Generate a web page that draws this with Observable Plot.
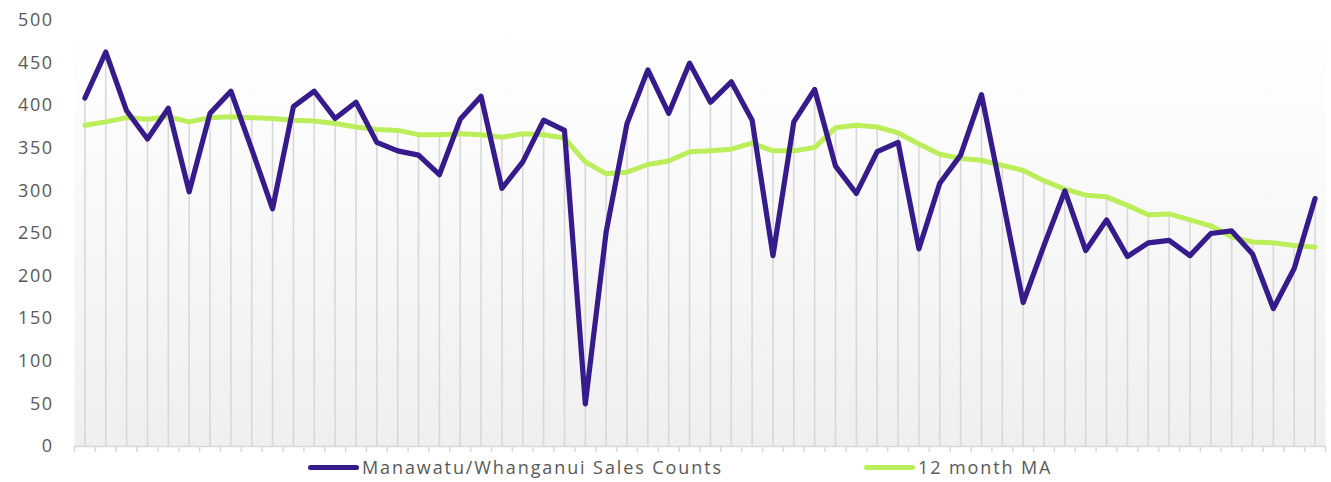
<!DOCTYPE html>
<html>
<head>
<meta charset="utf-8">
<script src="https://cdn.jsdelivr.net/npm/d3@7"></script>
<script src="https://cdn.jsdelivr.net/npm/@observablehq/plot@0.6"></script>
<style>
  html, body { margin: 0; padding: 0; background: #ffffff; }
  #wrap { position: relative; width: 1331px; height: 482px; font-family: "Open Sans", sans-serif; }
  #legend { position: relative; height: 22px; color: #595959; font-size: 18px; letter-spacing: 1.9px; }
  .item { position: absolute; top: 0; height: 22px; display: flex; align-items: center; white-space: nowrap; }
  .sw { width: 51px; height: 5px; border-radius: 3px; margin-right: 3px; }
</style>
</head>
<body>
<div id="wrap"></div>
<script>
// Period index (monthly categories, no labels shown on the axis)
const periods = Array.from({length: 60}, (_, i) => i + 1);

// Manawatu/Whanganui monthly sales counts
const salesCounts = [409,463,394,361,397,299,391,417,349,279,399,417,385,404,357,347,342,319,384,411,
                     303,334,383,371,50,252,379,442,391,450,404,428,383,224,381,419,329,297,346,357,
                     232,309,342,413,292,169,236,300,230,266,223,239,242,224,250,253,226,162,209,291];

// 12 month moving average
const movingAvg = [377,381,386,384,387,381,386,387,386,385,383,382,379,375,372,371,366,366,367,366,
                   363,367,366,362,334,320,322,331,335,346,347,349,356,347,347,351,374,377,375,368,
                   355,343,338,336,330,324,312,302,295,293,283,272,273,266,259,246,240,239,236,234];

const yTicks = [0,50,100,150,200,250,300,350,400,450,500];
const seriesNames = ["Manawatu/Whanganui Sales Counts", "12 month MA"];
const seriesColors = ["#351b8b", "#bbee5a"];

const data = periods.map((p, i) => ({p, sales: salesCounts[i], ma: movingAvg[i]}));
const bandEdges = [0, ...periods].map(p => p + 0.5);

const chart = Plot.plot({
  width: 1331,
  height: 456,
  marginLeft: 74,
  marginRight: 6,
  marginTop: 20,
  marginBottom: 10,
  style: {fontFamily: "'Open Sans', sans-serif", fontSize: "18px", color: "#595959", background: "transparent", overflow: "visible"},
  x: {type: "linear", domain: [0.5, 60.5], label: null},
  y: {domain: [0, 500], label: null},
  marks: [
    Plot.frame({fill: "url(#plotBg)", stroke: "none"}),
    Plot.ruleX(data, {x: "p", y1: 0, y2: d => Math.max(d.sales, d.ma), stroke: "#d8d8d8", strokeWidth: 1.6}),
    Plot.ruleY([0], {stroke: "#d9d9d9", strokeWidth: 1.5}),
    Plot.axisX({ticks: bandEdges, tickFormat: () => "", tickSize: 6, stroke: "#d9d9d9", strokeWidth: 1.5, label: null}),
    Plot.axisY({ticks: yTicks, tickSize: 0, tickPadding: 21, fill: "#595959", fontSize: 18, label: null}),
    Plot.line(data, {x: "p", y: "ma", stroke: seriesColors[1], strokeWidth: 5, strokeLinejoin: "round", strokeLinecap: "round"}),
    Plot.line(data, {x: "p", y: "sales", stroke: seriesColors[0], strokeWidth: 5.2, strokeLinejoin: "round", strokeLinecap: "round"})
  ]
});

// gradient definition for plot-area background
const ns = "http://www.w3.org/2000/svg";
const defs = document.createElementNS(ns, "defs");
const grad = document.createElementNS(ns, "linearGradient");
grad.setAttribute("id", "plotBg");
grad.setAttribute("x1", "0"); grad.setAttribute("y1", "0");
grad.setAttribute("x2", "0"); grad.setAttribute("y2", "1");
[["0", "#ffffff"], ["0.15", "#fdfdfd"], ["1", "#efefef"]].forEach(([o, c]) => {
  const s = document.createElementNS(ns, "stop");
  s.setAttribute("offset", o); s.setAttribute("stop-color", c);
  grad.appendChild(s);
});
defs.appendChild(grad);
chart.insertBefore(defs, chart.firstChild);
chart.querySelectorAll("g[aria-label='y-axis tick label'] text").forEach(t => t.setAttribute("letter-spacing", "1.5"));

const wrap = document.getElementById("wrap");
wrap.appendChild(chart);

const legend = document.createElement("div");
legend.id = "legend";
const lefts = [308, 864];
seriesNames.forEach((name, i) => {
  const item = document.createElement("div");
  item.className = "item";
  item.style.left = lefts[i] + "px";
  const sw = document.createElement("span");
  sw.className = "sw";
  sw.style.background = seriesColors[i];
  const label = document.createElement("span");
  label.textContent = name;
  item.appendChild(sw);
  item.appendChild(label);
  legend.appendChild(item);
});
wrap.appendChild(legend);
</script>
</body>
</html>
